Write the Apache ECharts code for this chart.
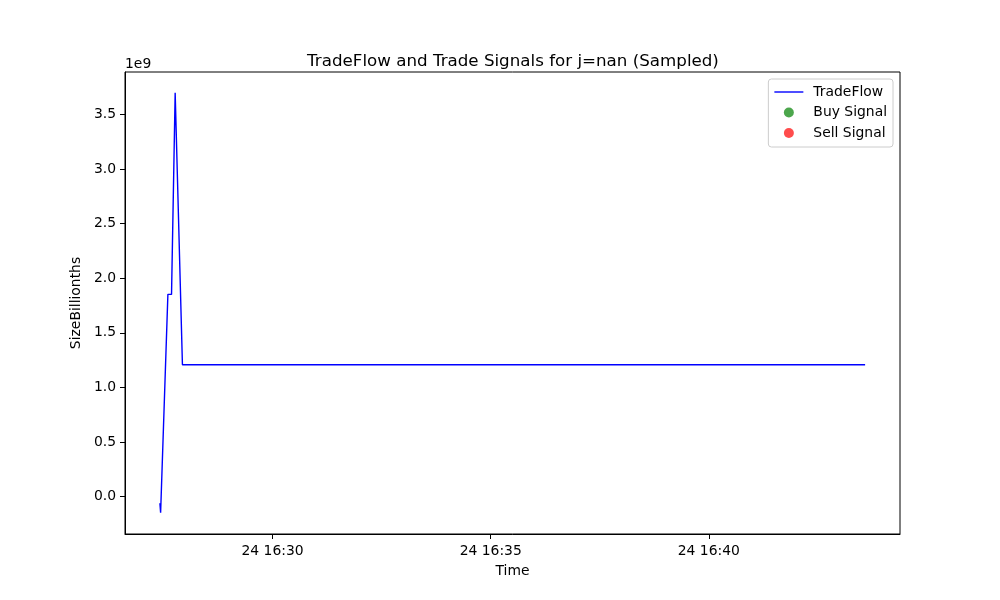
<!DOCTYPE html>
<html>
<head>
<meta charset="utf-8">
<script src="https://cdn.jsdelivr.net/npm/echarts@6/dist/echarts.min.js"></script>
<style>
    html, body { margin: 0; padding: 0; background: #fff; }
    #chart { width: 1000px; height: 600px; }
</style>
</head>
<body>
<div id="chart"></div>
<script>
// trade flow points (day 24), values in raw units
const flowTimes = ['16:27:25', '16:27:26', '16:27:36', '16:27:41', '16:27:46', '16:27:56', '16:43:35'];
const flowValues = [-0.06e9, -0.146e9, 1.852e9, 1.852e9, 3.698e9, 1.208e9, 1.208e9];
const buySignals = [];
const sellSignals = [];
const xTickTimes = ['16:30:00', '16:35:00', '16:40:00'];
const yTicks = [0, 0.5e9, 1.0e9, 1.5e9, 2.0e9, 2.5e9, 3.0e9, 3.5e9];

function ts(t) {
    return Date.parse('2024-01-24T' + t + 'Z');
}
function pad(n) { return n < 10 ? '0' + n : '' + n; }

let chart = echarts.init(document.getElementById('chart'));
const font = 'DejaVu Sans';

const option = {
    animation: false,
    title: {
        text: 'TradeFlow and Trade Signals for j=nan (Sampled)',
        left: 508,
        top: 48,
        textAlign: 'center',
        textStyle: { fontFamily: font, fontSize: 16.7, fontWeight: 'normal', color: '#000' }
    },
    legend: {
        orient: 'vertical',
        right: 107,
        top: 79,
        padding: [6, 6, 7, 6],
        itemWidth: 29,
        itemHeight: 10,
        itemGap: 6.5,
        borderColor: '#cccccc',
        borderWidth: 1,
        borderRadius: 3,
        backgroundColor: 'rgba(255,255,255,0.8)',
        textStyle: { fontFamily: font, fontSize: 13.9, color: '#000', padding: [0, 0, 0, 5] },
        data: [
            { name: 'TradeFlow', icon: 'path://M0 0H29V1.4H0Z' },
            'Buy Signal',
            'Sell Signal'
        ]
    },
    graphic: [{
        type: 'text',
        left: 125,
        top: 57,
        style: { text: '1e9', font: '13.9px "DejaVu Sans"', fill: '#000' }
    }],
    grid: {
        left: 125,
        right: 100,
        top: 72,
        bottom: 66,
        show: true,
        borderColor: '#000',
        borderWidth: 1
    },
    xAxis: {
        type: 'value',
        min: ts('16:26:37'),
        max: ts('16:44:23'),
        name: 'Time',
        nameLocation: 'middle',
        nameGap: 30,
        nameTextStyle: { fontFamily: font, fontSize: 13.9, color: '#000' },
        axisLine: { onZero: false, lineStyle: { color: '#000' } },
        axisTick: { show: true, length: 5, lineStyle: { color: '#000' }, customValues: xTickTimes.map(ts) },
        splitLine: { show: false },
        axisLabel: {
            margin: 10,
            fontFamily: font,
            fontSize: 13.9,
            color: '#000',
            customValues: xTickTimes.map(ts),
            formatter: function (v) {
                const d = new Date(v);
                return pad(d.getUTCDate()) + ' ' + pad(d.getUTCHours()) + ':' + pad(d.getUTCMinutes());
            }
        }
    },
    yAxis: {
        type: 'value',
        min: -0.341e9,
        max: 3.887e9,
        name: 'SizeBillionths',
        nameLocation: 'middle',
        nameGap: 37,
        nameTextStyle: { fontFamily: font, fontSize: 13.9, color: '#000' },
        axisLine: { show: true, onZero: false, lineStyle: { color: '#000' } },
        axisTick: { show: true, length: 5, lineStyle: { color: '#000' }, customValues: yTicks },
        splitLine: { show: false },
        axisLabel: {
            margin: 9,
            fontFamily: font,
            fontSize: 13.9,
            color: '#000',
            customValues: yTicks,
            formatter: function (v) { return (v / 1e9).toFixed(1); }
        }
    },
    series: [
        {
            name: 'TradeFlow',
            type: 'line',
            symbol: 'none',
            lineStyle: { color: '#0000ff', width: 1.4 },
            itemStyle: { color: '#0000ff' },
            data: flowTimes.map((t, i) => [ts(t), flowValues[i]])
        },
        {
            name: 'Buy Signal',
            type: 'scatter',
            symbolSize: 9,
            itemStyle: { color: '#008000', opacity: 0.7 },
            data: buySignals
        },
        {
            name: 'Sell Signal',
            type: 'scatter',
            symbolSize: 9,
            itemStyle: { color: '#ff0000', opacity: 0.7 },
            data: sellSignals
        }
    ]
};

chart.setOption(option);
</script>
</body>
</html>
